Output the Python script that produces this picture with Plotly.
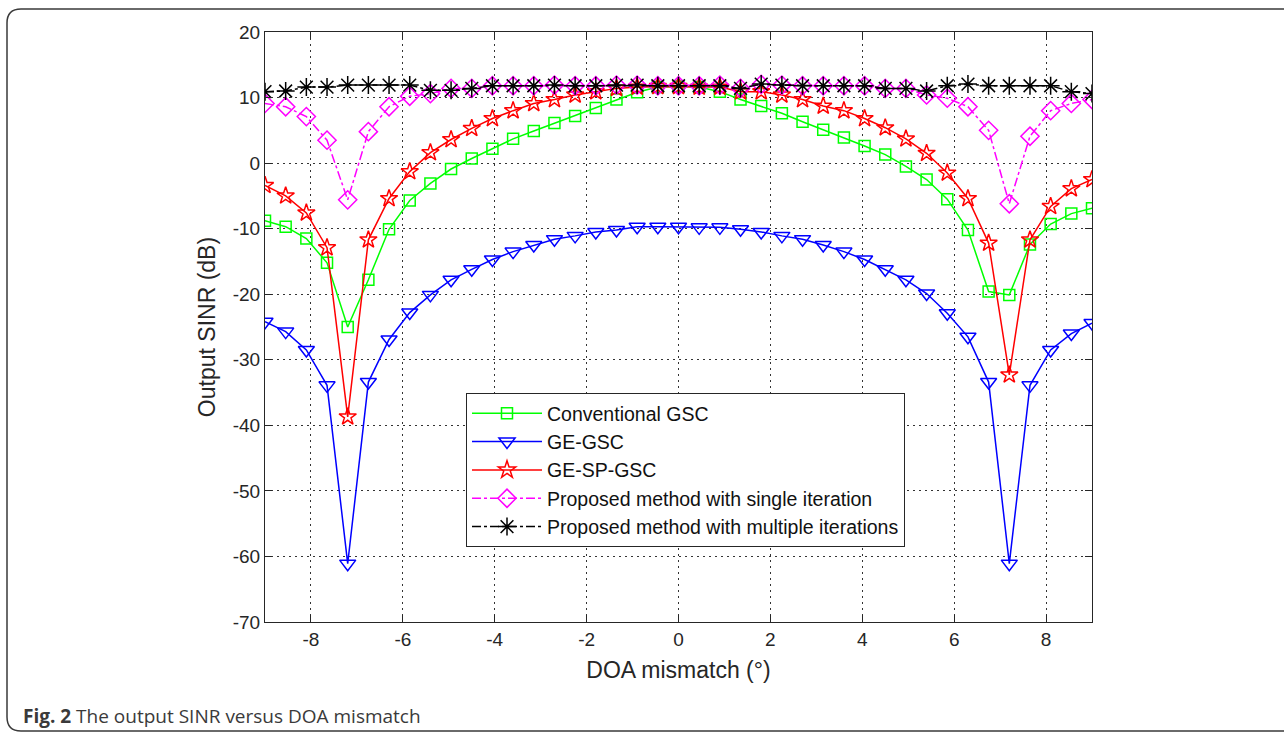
import numpy as np
import plotly.graph_objects as go

# DOA mismatch (degrees)
doa = [round(-9 + 0.45 * i, 2) for i in range(41)]

conventional_gsc = [-8.8, -9.7, -11.5, -15.2, -25.0, -17.8, -10.1, -5.7, -3.1, -0.9,
                    0.7, 2.2, 3.7, 4.9, 6.1, 7.2, 8.4, 9.7, 10.8, 11.6,
                    11.7,
                    11.6, 10.9, 9.7, 8.7, 7.6, 6.3, 5.1, 3.9, 2.6, 1.3,
                    -0.5, -2.5, -5.5, -10.2, -19.6, -20.1, -12.4, -9.3, -7.7, -6.9]

ge_gsc = [-24.2, -25.7, -28.5, -33.9, -61.1, -33.4, -26.9, -22.8, -20.1, -17.8,
          -16.2, -14.7, -13.5, -12.5, -11.6, -11.1, -10.5, -10.2, -9.7, -9.7,
          -9.7,
          -9.8, -9.8, -10.1, -10.5, -11.1, -11.6, -12.5, -13.5, -14.7, -16.2,
          -17.8, -19.9, -22.9, -26.5, -33.4, -61.1, -33.9, -28.5, -26.0, -24.4]

ge_sp_gsc = [-3.4, -5.0, -7.6, -12.9, -38.7, -11.7, -5.4, -1.3, 1.6, 3.6,
             5.3, 6.8, 8.0, 9.1, 9.7, 10.4, 10.9, 11.4, 11.6, 11.7,
             11.7,
             11.6, 11.6, 10.9, 10.9, 10.4, 9.7, 8.7, 8.0, 6.8, 5.4,
             3.7, 1.5, -1.5, -5.4, -12.2, -32.3, -11.7, -6.6, -3.9, -2.5]

proposed_single = [9.1, 8.6, 7.1, 3.5, -5.6, 4.8, 8.6, 10.2, 10.6, 11.4,
                   11.4, 11.8, 11.8, 11.8, 11.9, 11.8, 11.8, 11.9, 11.9, 11.8,
                   11.8,
                   11.8, 11.9, 11.4, 12.0, 11.9, 11.8, 11.8, 11.8, 11.8, 11.4,
                   11.4, 10.4, 9.9, 8.6, 5.0, -6.2, 4.1, 8.0, 9.1, 9.7]

proposed_multiple = [10.9, 11.0, 11.6, 11.6, 11.9, 11.9, 11.9, 11.9, 11.1, 11.1,
                     11.4, 11.8, 11.8, 11.8, 11.9, 11.8, 11.8, 11.9, 11.9, 11.8,
                     11.8,
                     11.8, 11.8, 11.4, 12.05, 11.9, 11.8, 11.8, 11.8, 11.8, 11.4,
                     11.4, 11.0, 11.8, 12.05, 11.8, 11.8, 11.8, 11.8, 10.9, 10.6]

series_names = ["Conventional GSC", "GE-GSC", "GE-SP-GSC",
                "Proposed method with single iteration",
                "Proposed method with multiple iterations"]

x_ticks = [-8, -6, -4, -2, 0, 2, 4, 6, 8]
y_ticks = [20, 10, 0, -10, -20, -30, -40, -50, -60, -70]

# ---- styling ----
W, H = 1284, 733
PL, PR, PT, PB = 265, 1092, 32, 622  # plot area in pixels


def px(xp):
    return (xp - PL) / (PR - PL)


def py(yp):
    return (PB - yp) / (PB - PT)


styles = [
    dict(color="#00FF00", symbol="square-open", dash="solid", size=11),
    dict(color="#0000FF", symbol="triangle-down-open", dash="solid", size=14),
    dict(color="#FF0000", symbol="star-open", dash="solid", size=13),
    dict(color="#FF00FF", symbol="diamond-open", dash="dashdot", size=14),
    dict(color="#000000", symbol="asterisk-open", dash="dashdot", size=15),
]
data = [conventional_gsc, ge_gsc, ge_sp_gsc, proposed_single, proposed_multiple]

fig = go.Figure()
for name, ys, st in zip(series_names, data, styles):
    fig.add_trace(go.Scatter(
        x=doa, y=ys, name=name, mode="lines+markers",
        line=dict(color=st["color"], width=1.5, dash=st["dash"]),
        marker=dict(symbol=st["symbol"], size=st["size"], color=st["color"],
                    line=dict(color=st["color"], width=1.5)),
    ))

axis_common = dict(
    showline=True, linecolor="#262626", linewidth=1.2, mirror="allticks",
    ticks="inside", ticklen=7, tickcolor="#262626",
    showgrid=True, gridcolor="#333333", griddash="2px,4px", gridwidth=1.2,
    zeroline=False,
    tickfont=dict(family="Liberation Sans, Arial", size=19, color="#262626"),
)

title_font = dict(family="Liberation Sans, Arial", size=23, color="#262626")
fig.update_xaxes(range=[-9, 9], tickvals=x_ticks,
                 ticktext=[str(v) for v in x_ticks],
                 title=dict(text="DOA mismatch (°)", standoff=12, font=title_font),
                 **axis_common)
fig.update_yaxes(range=[-70, 20], tickvals=y_ticks,
                 ticktext=[str(v) for v in y_ticks],
                 title=dict(text="Output SINR (dB)", standoff=10, font=title_font),
                 **axis_common)

r = 14
x0, x1, y0, y1 = 7, 1300, 9, 731
path = (f"M {px(x0 + r)} {py(y0)} L {px(x1)} {py(y0)} "
        f"M {px(x1)} {py(y1)} L {px(x0 + r)} {py(y1)} "
        f"Q {px(x0)} {py(y1)} {px(x0)} {py(y1 - r)} "
        f"L {px(x0)} {py(y0 + r)} "
        f"Q {px(x0)} {py(y0)} {px(x0 + r)} {py(y0)}")
fig.add_shape(type="path", path=path, xref="paper", yref="paper",
              line=dict(color="#3a3a3a", width=1.5), layer="above")

fig.add_annotation(
    text="<b>Fig. 2</b> The output SINR versus DOA mismatch",
    xref="paper", yref="paper", x=px(21), y=py(716),
    xanchor="left", yanchor="middle", showarrow=False,
    font=dict(family="Open Sans, Noto Sans", size=19, color="#3a3a3a"),
)

fig.update_layout(
    width=W, height=H,
    margin=dict(l=PL, r=W - PR, t=PT, b=H - PB, autoexpand=False),
    paper_bgcolor="white", plot_bgcolor="white",
    showlegend=True,
    legend=dict(
        x=px(466), y=py(393), xanchor="left", yanchor="top",
        bgcolor="white", bordercolor="#262626", borderwidth=1,
        font=dict(family="Liberation Sans, Arial", size=19.5, color="#111111"),
        itemwidth=70, tracegroupgap=0,
    ),
)

fig.write_html("out.html")
